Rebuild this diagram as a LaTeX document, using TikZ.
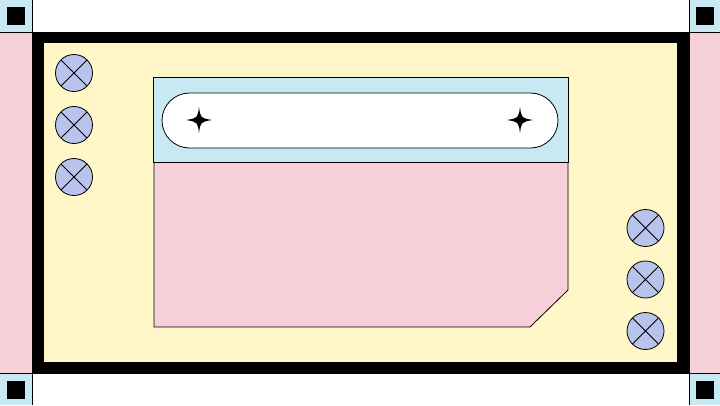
\documentclass[tikz,border=0pt]{standalone}
\begin{document}
\begin{tikzpicture}[x=1pt,y=-1pt,
  thinline/.style={draw=black,line width=0.8pt},
  cornerbox/.style={fill=cornerblue,draw=black,line width=0.8pt},
  knob/.style={circle,draw=black,line width=0.8pt,fill=knobblue,minimum size=37pt,inner sep=0pt,
    path picture={\draw[line width=0.8pt] (path picture bounding box.north west)--(path picture bounding box.south east)
      (path picture bounding box.north east)--(path picture bounding box.south west);}},
  sparkle/.style={fill=black}]
\definecolor{cornerblue}{HTML}{C8E9F2}
\definecolor{pinkc}{HTML}{F5D0D8}
\definecolor{yellowc}{HTML}{FFF7C8}
\definecolor{knobblue}{HTML}{B8C4EC}
\useasboundingbox (0,0) rectangle (720,405);
\fill[white] (0,0) rectangle (720,405);
% side strips
\fill[pinkc] (0,32) rectangle (32,373);
\fill[pinkc] (689,32) rectangle (720,373);
\draw[thinline] (32,0) -- (32,405);
\draw[thinline] (689,0) -- (689,405);
\draw[thinline] (0,32) -- (720,32);
\draw[thinline] (0,373) -- (720,373);
% corner boxes
\fill[cornerblue] (0,0) rectangle (32,32);
\fill[cornerblue] (689,0) rectangle (720,32);
\fill[cornerblue] (0,373) rectangle (32,405);
\fill[cornerblue] (689,373) rectangle (720,405);
\draw[thinline] (32,0) -- (32,32) -- (0,32);
\draw[thinline] (689,0) -- (689,32) -- (720,32);
\draw[thinline] (0,373) -- (32,373) -- (32,405);
\draw[thinline] (720,373) -- (689,373) -- (689,405);
\fill[black] (7,7) rectangle (25,25);
\fill[black] (696,7) rectangle (714,25);
\fill[black] (7,381) rectangle (25,399);
\fill[black] (696,381) rectangle (714,399);
% main frame
\fill[yellowc] (38,37.5) rectangle (683,368);
\draw[line width=11.5pt] (38,37.5) rectangle (683,368);
% pink panel with chamfer
\filldraw[fill=pinkc,draw=black,line width=0.8pt] (154,162) -- (568,162) -- (568,290) -- (530,327) -- (154,327) -- cycle;
% light blue panel
\filldraw[fill=cornerblue,draw=black,line width=0.8pt] (153,77) rectangle (568,162);
% pill
\filldraw[fill=white,draw=black,line width=0.8pt,rounded corners=27.5pt] (162,93) rectangle (558,148);
% sparkles
\foreach \cx in {199,520}{
  \fill[sparkle] (\cx,107) .. controls (\cx+1.5,118) .. (\cx+13,120) .. controls (\cx+1.5,122) .. (\cx,133)
    .. controls (\cx-1.5,122) .. (\cx-13,120) .. controls (\cx-1.5,118) .. cycle;
}
% knobs
\node[knob] (l1) at (74,73) {};
\node[knob] (l2) at (74,125) {};
\node[knob] (l3) at (74,177) {};
\node[knob] (r1) at (645.5,228) {};
\node[knob] (r2) at (645.5,279.5) {};
\node[knob] (r3) at (645.5,331) {};
\end{tikzpicture}
\end{document}
